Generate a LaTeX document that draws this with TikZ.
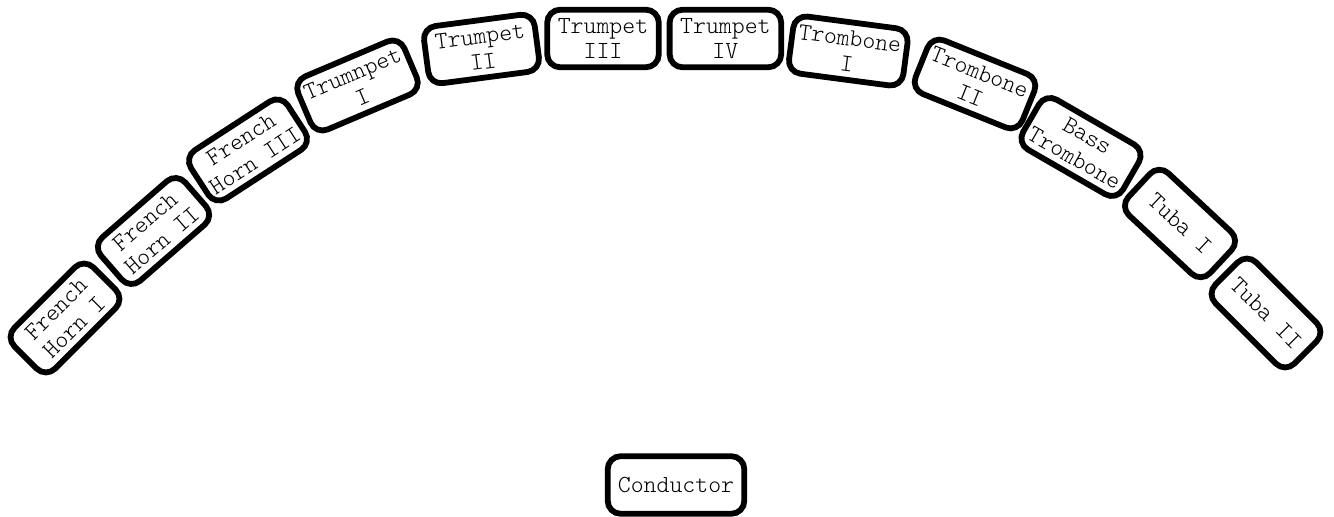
\documentclass[tikz,border=0pt]{standalone}
\usepackage{fontspec}
\setmonofont{Latin Modern Mono Light}
\begin{document}
\begin{tikzpicture}[x=0.5pt,y=-0.5pt,
  seat/.style={draw=black, line width=2.9pt, rounded corners=6.5pt, fill=white,
    align=center, inner xsep=3pt, inner ysep=3pt, minimum height=28.8pt,
    minimum width=55.8pt,
    font=\ttfamily\fontsize{12.3}{12.8}\selectfont},
  cond/.style={seat, minimum width=68.3pt}]
\useasboundingbox (0,0) rectangle (1334,517);
\node[seat, rotate=45]  (fh1) at (65,318)    {French\\Horn I};
\node[seat, rotate=41]  (fh2) at (153.5,231) {French\\Horn II};
\node[seat, rotate=33]  (fh3) at (248,150)   {French\\Horn III};
\node[seat, rotate=23]  (tp1) at (357.5,85.5) {Trumnpet\\I};
\node[seat, rotate=7.5] (tp2) at (481.5,49)  {Trumpet\\II};
\node[seat]             (tp3) at (603,38.5)  {Trumpet\\III};
\node[seat]             (tp4) at (725.4,38.5) {Trumpet\\IV};
\node[seat, rotate=-7.5] (tb1) at (848.3,51) {Trombone\\I};
\node[seat, rotate=-22] (tb2) at (975,84)    {Trombone\\II};
\node[seat, rotate=-30] (btb) at (1081,147)  {Bass\\Trombone};
\node[seat, rotate=-43] (tu1) at (1180,223.5) {Tuba I};
\node[seat, rotate=-45] (tu2) at (1266,313)  {Tuba II};
\node[cond]             (con) at (676,485)   {Conductor};
\end{tikzpicture}
\end{document}
